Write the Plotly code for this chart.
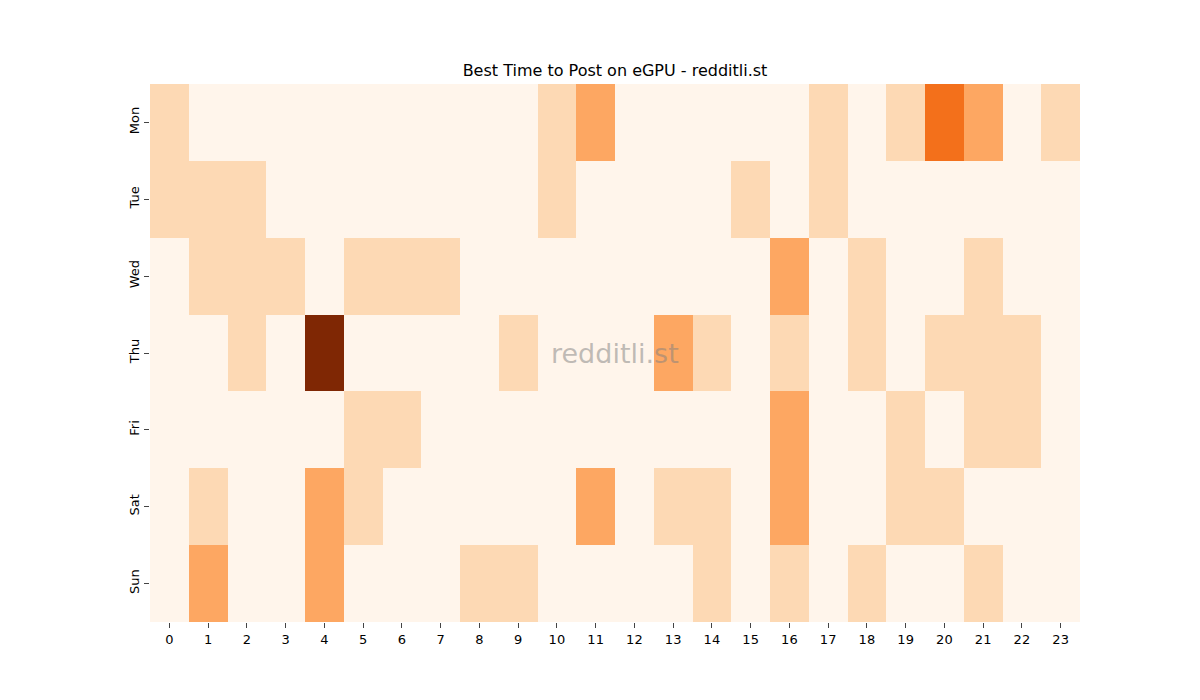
import plotly.graph_objects as go

days = ["Mon", "Tue", "Wed", "Thu", "Fri", "Sat", "Sun"]
hours = list(range(24))
mon = [1,0,0,0,0,0,0,0,0,0,1,2,0,0,0,0,0,1,0,1,3,2,0,1]
tue = [1,1,1,0,0,0,0,0,0,0,1,0,0,0,0,1,0,1,0,0,0,0,0,0]
wed = [0,1,1,1,0,1,1,1,0,0,0,0,0,0,0,0,2,0,1,0,0,1,0,0]
thu = [0,0,1,0,5,0,0,0,0,1,0,0,0,2,1,0,1,0,1,0,1,1,1,0]
fri = [0,0,0,0,0,1,1,0,0,0,0,0,0,0,0,0,2,0,0,1,0,1,1,0]
sat = [0,1,0,0,2,1,0,0,0,0,0,2,0,1,1,0,2,0,0,1,1,0,0,0]
sun = [0,2,0,0,2,0,0,0,1,1,0,0,0,0,1,0,1,0,1,0,0,1,0,0]
z = [mon, tue, wed, thu, fri, sat, sun]

oranges = ["#fff5eb", "#fee6ce", "#fdd0a2", "#fdae6b", "#fd8d3c",
           "#f16913", "#d94801", "#a63603", "#7f2704"]
cs = [[i / 8, c] for i, c in enumerate(oranges)]

fig = go.Figure(go.Heatmap(
    z=z, x=hours, y=days, colorscale=cs, zmin=0, zmax=5,
    showscale=False, xgap=0, ygap=0,
))

fig.update_layout(
    width=1200, height=700,
    paper_bgcolor="white", plot_bgcolor="white",
    margin=dict(l=142, r=128, t=76, b=86),
    font=dict(family="DejaVu Sans", size=14, color="black"),
    title=dict(text="Best Time to Post on eGPU - redditli.st", x=(615 - 8) / 1200, xanchor="center",
               y=1 - 62 / 700, yanchor="middle", font=dict(size=16)),
    xaxis=dict(tickmode="array", tickvals=hours, ticktext=[str(h) for h in hours],
               ticks="outside", ticklen=5, showgrid=False, zeroline=False,
               tickfont=dict(size=13)),
    yaxis=dict(autorange="reversed", ticks="outside", ticklen=5, showgrid=False,
               zeroline=False, tickangle=-90, tickfont=dict(size=13)),
    annotations=[dict(text="redditli.st", x=0.5, y=0.5, xref="paper", yref="paper",
                      showarrow=False, font=dict(size=27, color="rgba(128,128,128,0.5)"))],
)

fig.write_html("out.html")
